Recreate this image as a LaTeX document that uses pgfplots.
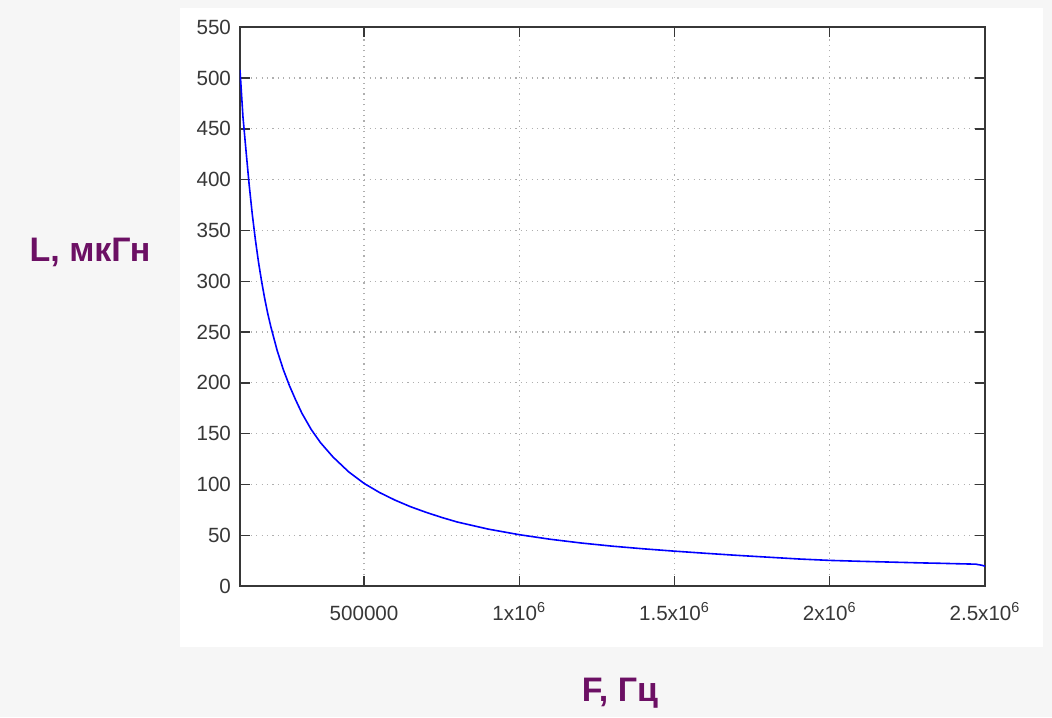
\documentclass[border=0pt]{standalone}
\usepackage{pgfplots}
\pgfplotsset{compat=1.18}
\usepackage{fontspec}
\setmainfont{Liberation Sans}
\definecolor{lblpurple}{RGB}{108,16,100}
\definecolor{tickgray}{RGB}{55,55,55}
\definecolor{gridgray}{RGB}{175,175,175}
\definecolor{bggray}{RGB}{246,246,246}
\begin{document}
\begin{tikzpicture}
  % backgrounds (1 px = 0.5pt, origin at the lower left corner of the axis box)
  \fill[bggray] (-120pt,-65.5pt) rectangle (406pt,293pt);
  \fill[white] (-30pt,-30.5pt) rectangle (401.5pt,289pt);
  \begin{axis}[
      at={(0,0)}, anchor=south west,
      scale only axis,
      width=372.5pt, height=279.4pt,
      xmin=100500, xmax=2500000,
      ymin=0, ymax=550,
      xtick={500000,1000000,1500000,2000000,2500000},
      xticklabels={500000, 1x10\textsuperscript{6}, 1.5x10\textsuperscript{6},
                   2x10\textsuperscript{6}, 2.5x10\textsuperscript{6}},
      ytick={0,50,...,550},
      scaled x ticks=false,
      /pgf/number format/assume math mode=true,
      tick align=inside,
      tick pos=both,
      major tick length=5pt,
      tick style={tickgray, line width=0.7pt},
      axis line style={tickgray, line width=0.7pt},
      ticklabel style={font=\fontsize{10.3}{12}\selectfont, text=tickgray},
      xticklabel style={anchor=base, yshift=-17pt},
      yticklabel style={xshift=-1pt},
      xmajorgrids=true, ymajorgrids=true,
      grid style={gridgray, line width=0.6pt, dash pattern=on 0.6pt off 2.1pt},
      xlabel={F, Гц},
      ylabel={L, мкГн},
      every axis x label/.style={at={(rel axis cs:0.510,-0.1915)}, anchor=center,
        font=\bfseries\fontsize{17}{20}\selectfont, text=lblpurple},
      every axis y label/.style={at={(rel axis cs:-0.2013,0.5977)}, anchor=center,
        font=\bfseries\fontsize{17}{20}\selectfont, text=lblpurple},
    ]
    \addplot[no marks, color=blue, line width=0.8pt] coordinates {
      (100500, 508)
      (110000, 462)
      (120000, 428)
      (130000, 395)
      (140000, 366)
      (150000, 341)
      (160000, 319)
      (170000, 300)
      (180000, 283)
      (190000, 268)
      (200000, 255)
      (220000, 232)
      (240000, 213)
      (260000, 197)
      (280000, 183)
      (300000, 170)
      (330000, 154)
      (360000, 141)
      (400000, 127)
      (450000, 112.5)
      (500000, 101)
      (550000, 92)
      (600000, 84.5)
      (650000, 78)
      (700000, 72.5)
      (750000, 67.5)
      (800000, 63)
      (900000, 56)
      (1000000, 50.5)
      (1100000, 46)
      (1200000, 42.3)
      (1300000, 39.2)
      (1400000, 36.6)
      (1500000, 34.3)
      (1600000, 32.2)
      (1700000, 30.2)
      (1800000, 28.4)
      (1900000, 26.6)
      (2000000, 25.2)
      (2100000, 24.3)
      (2200000, 23.5)
      (2300000, 22.7)
      (2350000, 22.4)
      (2400000, 22.0)
      (2470000, 21.5)
      (2490000, 20.4)
      (2500000, 19.5)
    };
  \end{axis}
\end{tikzpicture}
\end{document}
